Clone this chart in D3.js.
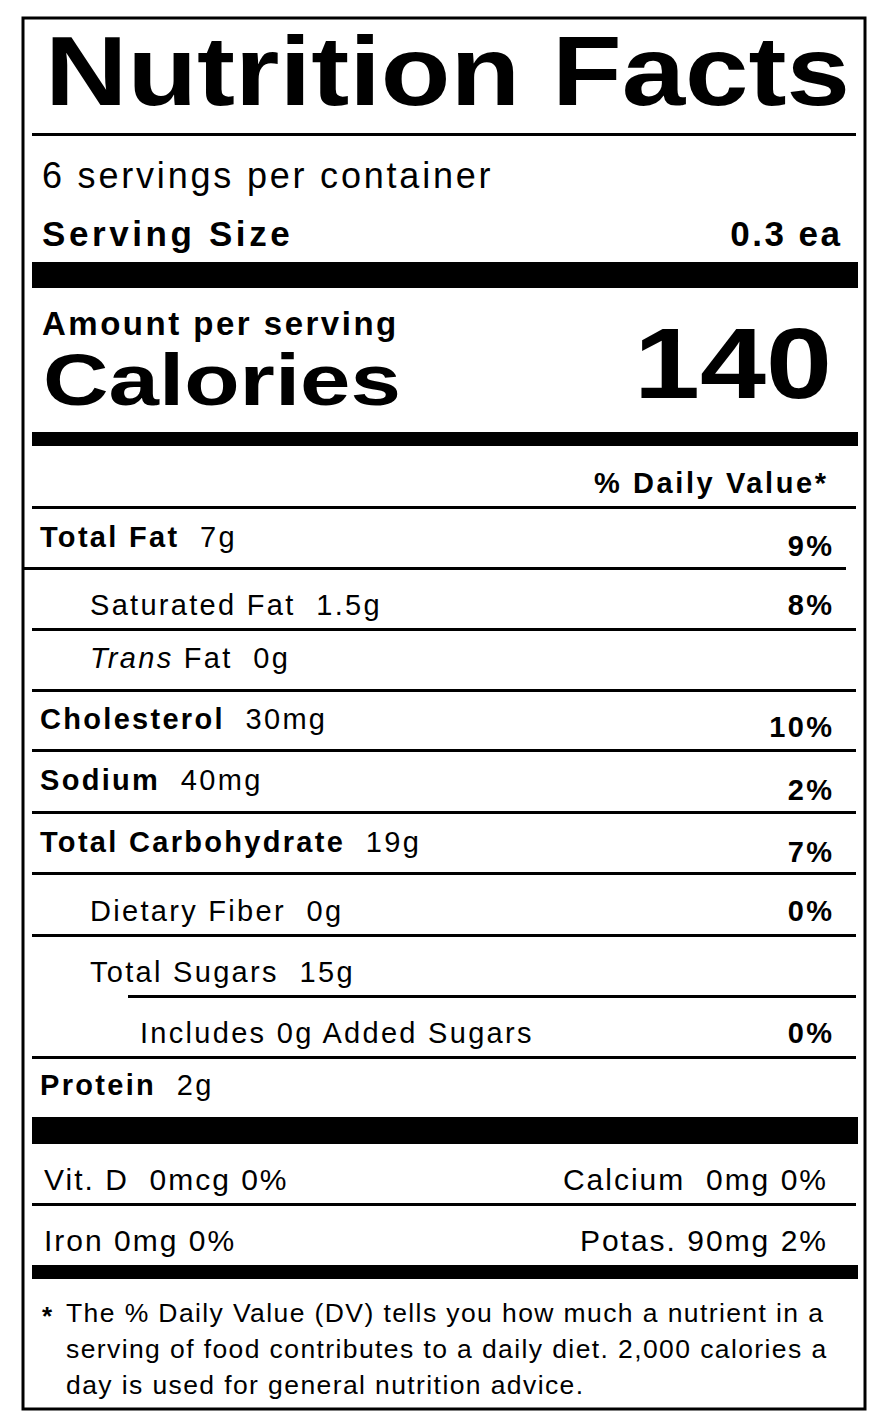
<!DOCTYPE html><html><head><meta charset="utf-8"><script src="https://cdn.jsdelivr.net/npm/d3@7"></script>
<style>body{margin:0;background:#fff}</style></head><body><script>
const title="Nutrition Facts";
const servingsText="6 servings per container";
const servingSize=["Serving Size","0.3 ea"];
const calories=140;
const nutrients=[
 {name:"Total Fat",amt:"7g",dv:"9%",bold:true,indent:0},
 {name:"Saturated Fat",amt:"1.5g",dv:"8%",bold:false,indent:1},
 {name:"Trans Fat",amt:"0g",dv:"",bold:false,indent:1,trans:true},
 {name:"Cholesterol",amt:"30mg",dv:"10%",bold:true,indent:0},
 {name:"Sodium",amt:"40mg",dv:"2%",bold:true,indent:0},
 {name:"Total Carbohydrate",amt:"19g",dv:"7%",bold:true,indent:0},
 {name:"Dietary Fiber",amt:"0g",dv:"0%",bold:false,indent:1},
 {name:"Total Sugars",amt:"15g",dv:"",bold:false,indent:1},
 {name:"Includes 0g Added Sugars",amt:"",dv:"0%",bold:false,indent:2},
 {name:"Protein",amt:"2g",dv:"",bold:true,indent:0}];
const leftBase=[547,615,668,729,790,852,921,982,1043,1095];
const rightBase=[556,615,0,737,800,862,921,0,1043,0];
const vitamins=[["Vit. D\u00a0\u00a00mcg 0%","Calcium\u00a0\u00a00mg 0%"],["Iron 0mg 0%","Potas. 90mg 2%"]];
const footnote=["The % Daily Value (DV) tells you how much a nutrient in a","serving of food contributes to a daily diet. 2,000 calories a","day is used for general nutrition advice."];
const F="Liberation Sans, Arial, sans-serif";
const svg=d3.select("body").append("svg").attr("width",887).attr("height",1427).style("font-family",F);
svg.append("rect").attr("x",23).attr("y",18).attr("width",842).attr("height",1391).attr("fill","none").attr("stroke","#000").attr("stroke-width",3);
const hl=(y,x1,x2,w)=>svg.append("rect").attr("x",x1).attr("y",y).attr("width",x2-x1).attr("height",w).attr("fill","#000");
hl(133,32,856,3);hl(262,32,858,26);hl(432,32,858,14);hl(506,32,856,3);hl(567,22,846,3);
[628,689,749,811,872,934,1056].forEach(y=>hl(y,32,856,3));hl(995,128,856,3);
hl(1117,32,858,27);hl(1203,32,856,3);hl(1265,32,858,14);
const t=(x,y,s,size,opt={})=>{const e=svg.append("text").attr("x",x).attr("y",y).attr("font-size",size).text(s);
 if(opt.b)e.attr("font-weight","bold");if(opt.a)e.attr("text-anchor",opt.a);
 if(opt.ls){e.attr("letter-spacing",opt.ls);if(opt.a==="end")e.attr("dx",opt.ls);}
 if(opt.tl)e.attr("textLength",opt.tl).attr("lengthAdjust","spacingAndGlyphs");return e;};
t(45,105,title,98,{b:1,tl:805});
t(42,188,servingsText,36,{ls:2.8});
t(42,246,servingSize[0],35,{b:1,ls:3.6});t(840,246,servingSize[1],35,{b:1,a:"end",ls:2.5});
t(42,335,"Amount per serving",33,{b:1,ls:2.5});
t(43,405,"Calories",72,{b:1,tl:358});
t(832,398,calories,100,{b:1,a:"end",tl:198});
t(826,493,"% Daily Value*",29,{b:1,a:"end",ls:2.6});
const ix=[40,90,140];
nutrients.forEach((d,i)=>{
 const e=svg.append("text").attr("x",ix[d.indent]).attr("y",leftBase[i]).attr("font-size",29).attr("letter-spacing",2.3);
 if(d.trans){e.append("tspan").attr("font-style","italic").text("Trans");e.append("tspan").text(" Fat\u00a0\u00a0"+d.amt);}
 else{e.append("tspan").attr("font-weight",d.bold?"bold":"normal").text(d.name);
  if(d.amt)e.append("tspan").text("\u00a0\u00a0"+d.amt);}
 if(d.dv)t(832,rightBase[i],d.dv,29,{b:1,a:"end",ls:2.3});
});
vitamins.forEach((r,i)=>{const y=[1190,1251][i];t(44,y,r[0],30,{ls:2});t(826,y,r[1],30,{a:"end",ls:2});});
t(42,1325,"*",26,{b:1});
footnote.forEach((s,i)=>t(66,1322+i*36,s,26.5,{ls:1.4}));
</script></body></html>
